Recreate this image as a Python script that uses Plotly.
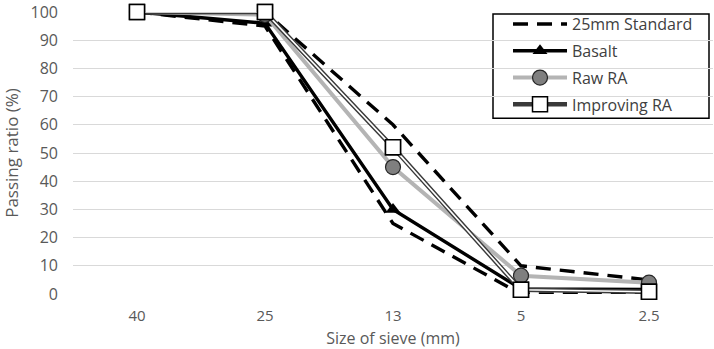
import plotly.graph_objects as go

sizes = ["40", "25", "13", "5", "2.5"]
std_upper = [100, 100, 60, 10, 5]
std_lower = [100, 95, 25, 0, 0]
basalt = [100, 96, 30, 1.8, 1.6]
raw_ra = [100, 99, 45, 6.5, 4]
improving_ra = [100, 100, 52, 1.5, 0.8]
y_ticks = [0, 10, 20, 30, 40, 50, 60, 70, 80, 90, 100]

FONT = "Open Sans"
fig = go.Figure()

dash = "15px,9px"
fig.add_trace(go.Scatter(x=sizes, y=std_upper, mode="lines", name="25mm Standard",
                         line=dict(color="black", width=3.4, dash=dash),
                         legendgroup="a", cliponaxis=False))
fig.add_trace(go.Scatter(x=sizes, y=std_lower, mode="lines", name="25mm Standard",
                         line=dict(color="black", width=3.4, dash=dash),
                         legendgroup="a", showlegend=False, cliponaxis=False))
fig.add_trace(go.Scatter(x=sizes, y=basalt, mode="lines+markers", name="Basalt",
                         line=dict(color="black", width=3.4),
                         marker=dict(symbol="triangle-up", size=13, color="black"),
                         legendgroup="b", cliponaxis=False))
fig.add_trace(go.Scatter(x=sizes, y=raw_ra, mode="lines+markers", name="Raw RA",
                         line=dict(color="#b4b4b4", width=4),
                         marker=dict(symbol="circle", size=15, color="#7f7f7f",
                                     line=dict(color="#262626", width=1.2)),
                         legendgroup="c", cliponaxis=False))
fig.add_trace(go.Scatter(x=sizes, y=improving_ra, mode="lines+markers", name="Improving RA",
                         line=dict(color="#3a3a3a", width=4.5),
                         marker=dict(symbol="square", size=15, color="white",
                                     line=dict(color="black", width=1.5)),
                         legendgroup="d", cliponaxis=False))
fig.add_trace(go.Scatter(x=sizes, y=improving_ra, mode="lines",
                         line=dict(color="white", width=1.6),
                         legendgroup="d", showlegend=False, cliponaxis=False, hoverinfo="skip"))
fig.add_trace(go.Scatter(x=sizes, y=improving_ra, mode="markers",
                         marker=dict(symbol="square", size=15, color="white",
                                     line=dict(color="black", width=1.5)),
                         legendgroup="d", showlegend=False, cliponaxis=False, hoverinfo="skip"))

# legend frame
fig.add_shape(type="rect", xref="paper", yref="paper",
              x0=0.65625, x1=0.99375, y0=0.6232, y1=0.99296,
              line=dict(color="black", width=1.5), fillcolor="white", layer="below")

fig.update_layout(
    width=714, height=349,
    margin=dict(l=73, r=1, t=10, b=55),
    plot_bgcolor="white", paper_bgcolor="white",
    font=dict(family=FONT, size=16, color="#595959"),
    showlegend=True,
    legend=dict(x=0.6797, xanchor="left", y=1.0176, yanchor="top",
                borderwidth=0, bgcolor="rgba(0,0,0,0)",
                font=dict(family=FONT, size=16, color="#404040"),
                traceorder="grouped", tracegroupgap=3, itemwidth=54),
    xaxis=dict(type="category", range=[-0.5, 4.5], showgrid=False, zeroline=False,
               showline=False, ticks="", ticklabelstandoff=11,
               tickfont=dict(size=15),
               title=dict(text="Size of sieve (mm)", standoff=8,
                          font=dict(family=FONT, size=16, color="#595959"))),
    yaxis=dict(range=[0, 100], tickmode="array", tickvals=y_ticks, showgrid=True,
               gridcolor="#d9d9d9", gridwidth=1, ticklabeloverflow="allow",
               zeroline=False, showline=False, ticks="", ticklabelstandoff=14,
               title=dict(text="Passing ratio (%)", standoff=8,
                          font=dict(family=FONT, size=17, color="#595959"))),
)

fig.write_html("out.html")
